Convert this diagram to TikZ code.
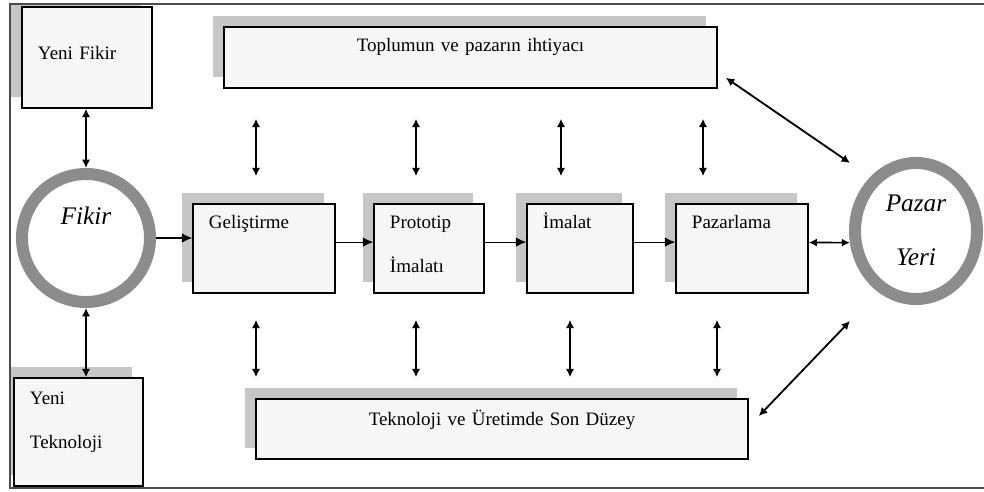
\documentclass[tikz,border=0pt]{standalone}
\usepackage{fontspec}
\setmainfont{Liberation Serif}
\usetikzlibrary{arrows.meta,shadows,shapes.geometric}

\begin{document}
\begin{tikzpicture}[x=0.025cm, y=-0.025cm,
    box/.style={draw, line width=1.1pt, fill=gray!7, inner xsep=0.4cm, inner ysep=0pt,
        align=left, font=\fontsize{13.5pt}{31pt}\selectfont,
        drop shadow={shadow xshift=-0.275cm, shadow yshift=0.275cm, fill=gray!45, opacity=1}},
    stage/.style={text height=0.625cm, text depth=1.6cm},
    ring/.style={draw=black!45, line width=0.3cm, fill=white, inner sep=0pt, align=center,
        font=\fontsize{18pt}{37.7pt}\selectfont\itshape},
    link/.style={{Latex[length=2.1mm,width=2.1mm]}-{Latex[length=2.1mm,width=2.1mm]}, line width=1.3pt},
    flow/.style={-{Latex[length=2.6mm,width=2.4mm]}, line width=0.8pt}]
    \useasboundingbox (0,0) rectangle (984,492);
    \begin{scope}
        \clip (10,4) rectangle (984,488);

        % Boxes
        \node[box, text width=2.45cm, text height=1.325cm, text depth=1.2cm] (yenifikir) at (87,57.5) {Yeni Fikir};
        \node[box, text width=2.425cm, text height=0.675cm, text depth=2.025cm] (yeniteknoloji) at (78.5,432) {Yeni\\Teknoloji};
        \node[box, align=center, text width=11.525cm, text height=0.625cm, text depth=0.9cm] (toplum) at (470.5,57.5) {Toplumun ve pazarın ihtiyacı};
        \node[box, align=center, text width=11.5cm, text height=0.65cm, text depth=0.85cm] (teknoloji) at (502,429) {Teknoloji ve Üretimde Son Düzey};
        \node[box, stage, text width=2.75cm] (gelis) at (264,248.5) {Geliştirme};
        \node[box, stage, text width=1.95cm] (proto) at (429,248.5) {Prototip\\İmalatı};
        \node[box, stage, text width=1.85cm] (imalat) at (580,248.5) {İmalat};
        \node[box, stage, text width=2.5cm] (pazarlama) at (742,248.5) {Pazarlama};

        % Rings
        \node[ring, circle, minimum size=3.2cm, text width=2cm, text height=0.3cm, text depth=0.95cm] (fikir) at (86,238) {Fikir};
        \node[ring, ellipse, minimum width=3.05cm, minimum height=3.4cm, text width=2cm, text height=0.4cm, text depth=1.35cm] (pazar) at (916,231) {Pazar\\Yeri};

        % Fikir links
        \draw[link] (fikir.north |- yenifikir.south) -- (fikir.north);
        \draw[link] (fikir.south) -- (fikir.south |- yeniteknoloji.north);
        \draw[flow] (fikir.east) -- (fikir.east -| gelis.west);

        % Stages
        \foreach \a/\b in {gelis/proto, proto/imalat, imalat/pazarlama}
            \draw[flow] ([yshift=0.16cm]\a.east) -- ([yshift=0.16cm]\b.west);
        \draw[{Latex[length=2mm,width=2mm]}-{Latex[length=2mm,width=2mm]}, line width=1.2pt] ([yshift=0.15cm]pazarlama.east) -- (pazar.190);

        % Vertical links
        \foreach \n/\dt/\db in {gelis/-0.2/-0.2, proto/-0.325/-0.325, imalat/-0.475/-0.25, pazarlama/-0.975/-0.625}{
            \coordinate (t\n) at ([xshift=\dt cm]\n.north);
            \coordinate (b\n) at ([xshift=\db cm]\n.south);
            \draw[link, shorten <=0.75cm, shorten >=0.675cm] (toplum.south -| t\n) -- (t\n);
            \draw[link, shorten <=0.65cm, shorten >=0.525cm] (b\n) -- (b\n |- teknoloji.north);
        }

        % Market links
        \draw[link] ([shift={(0.2cm,0.275cm)}]toplum.south east) -- ([shift={(-1.65cm,1.7cm)}]pazar.center);
        \draw[link] ([shift={(0.25cm,0.325cm)}]teknoloji.east) -- ([shift={(-1.65cm,-2.25cm)}]pazar.center);
    \end{scope}

    % Frame
    \draw[black!70, line width=0.8pt] (984,4) -- (10,4) -- (10,488) -- (984,488);
\end{tikzpicture}
\end{document}
